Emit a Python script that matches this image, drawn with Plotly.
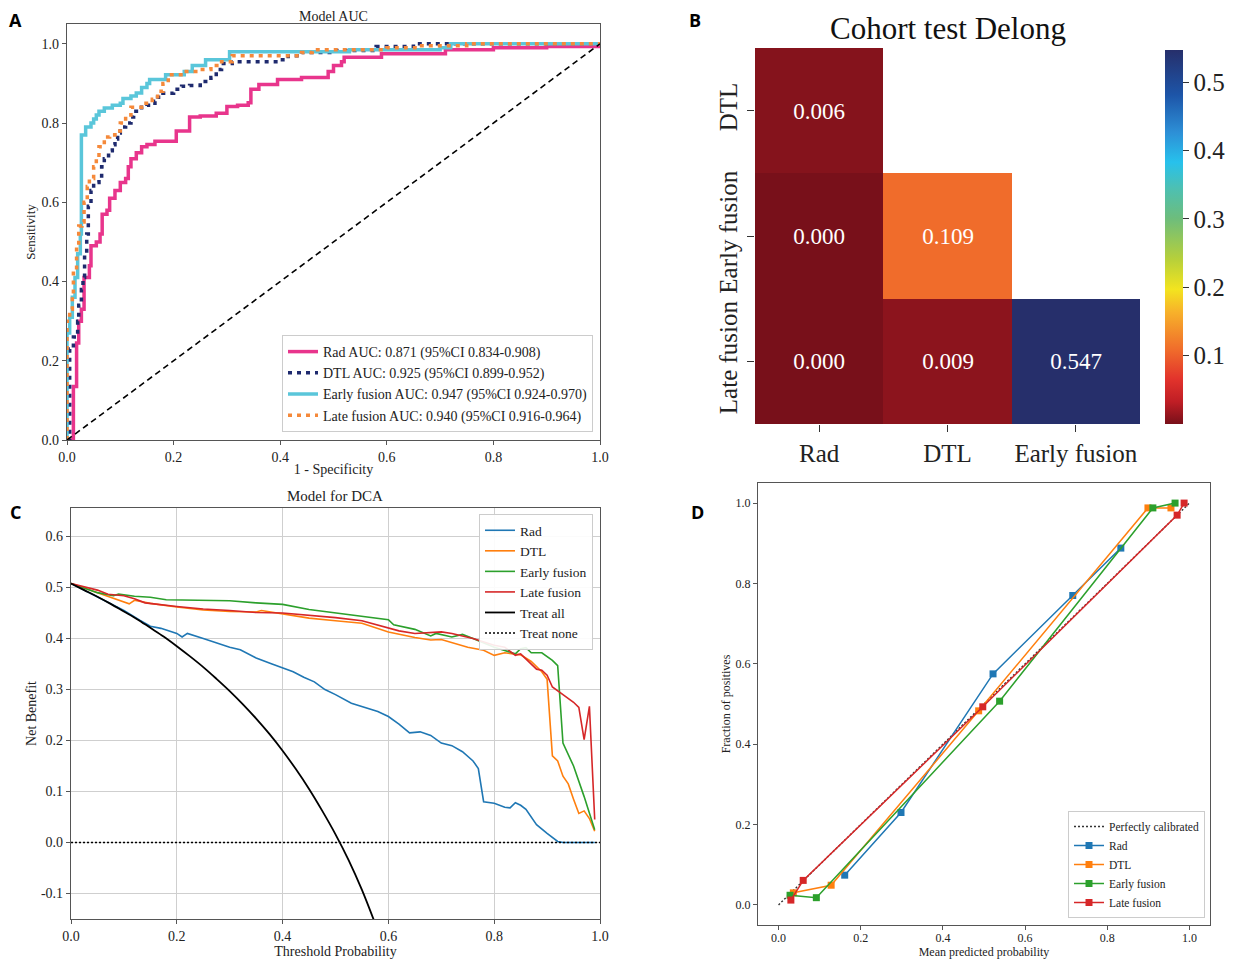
import plotly.graph_objects as go

OFF = 8                      # browser body margin
FW, FH = 1237 - OFF, 959 - OFF
SERIF = "Liberation Serif"

# ---------------- Panel A: ROC data ----------------
rad_fpr = [0, 0.012, 0.018, 0.022, 0.027, 0.032, 0.042, 0.045, 0.055, 0.062, 0.066, 0.075, 0.08, 0.09, 0.1, 0.11, 0.115, 0.12, 0.13, 0.14, 0.15, 0.165, 0.205, 0.23, 0.25, 0.28, 0.3, 0.32, 0.34, 0.345, 0.36, 0.395, 0.44, 0.49, 0.5, 0.515, 0.52, 0.59, 0.71, 0.8, 0.9, 1.0]
rad_tpr = [0, 0.135, 0.245, 0.30, 0.33, 0.41, 0.44, 0.49, 0.50, 0.52, 0.57, 0.58, 0.61, 0.63, 0.65, 0.66, 0.69, 0.71, 0.725, 0.74, 0.746, 0.754, 0.78, 0.815, 0.818, 0.825, 0.842, 0.845, 0.851, 0.885, 0.897, 0.91, 0.915, 0.93, 0.945, 0.955, 0.966, 0.975, 0.985, 0.99, 0.993, 1.0]

dtl_fpr = [0, 0.005, 0.012, 0.02, 0.022, 0.027, 0.03, 0.033, 0.037, 0.04, 0.045, 0.05, 0.06, 0.065, 0.07, 0.078, 0.085, 0.09, 0.095, 0.1, 0.11, 0.12, 0.125, 0.14, 0.15, 0.165, 0.17, 0.18, 0.2, 0.215, 0.23, 0.25, 0.27, 0.28, 0.29, 0.31, 0.4, 0.415, 0.44, 0.5, 0.58, 0.65, 1.0]
dtl_tpr = [0, 0.23, 0.26, 0.30, 0.34, 0.38, 0.41, 0.47, 0.52, 0.59, 0.63, 0.65, 0.66, 0.69, 0.71, 0.73, 0.745, 0.76, 0.775, 0.79, 0.80, 0.815, 0.83, 0.84, 0.845, 0.855, 0.865, 0.875, 0.885, 0.893, 0.895, 0.905, 0.915, 0.935, 0.95, 0.955, 0.96, 0.97, 0.978, 0.983, 0.993, 1.0, 1.0]

early_fpr = [0, 0, 0.005, 0.01, 0.015, 0.02, 0.025, 0.027, 0.035, 0.045, 0.05, 0.055, 0.06, 0.07, 0.085, 0.1, 0.105, 0.12, 0.13, 0.14, 0.15, 0.155, 0.185, 0.22, 0.235, 0.26, 0.305, 0.53, 0.7, 0.72, 1.0]
early_tpr = [0, 0.27, 0.31, 0.36, 0.41, 0.47, 0.52, 0.77, 0.79, 0.80, 0.81, 0.82, 0.83, 0.838, 0.845, 0.85, 0.862, 0.868, 0.876, 0.89, 0.90, 0.91, 0.922, 0.93, 0.945, 0.96, 0.98, 0.985, 0.99, 1.0, 1.0]

late_fpr = [0, 0, 0.005, 0.01, 0.012, 0.018, 0.022, 0.028, 0.032, 0.038, 0.042, 0.05, 0.055, 0.06, 0.07, 0.08, 0.09, 0.1, 0.11, 0.12, 0.14, 0.16, 0.17, 0.18, 0.19, 0.22, 0.25, 0.27, 0.29, 0.31, 0.42, 0.44, 0.46, 0.6, 0.66, 0.75, 1.0]
late_tpr = [0, 0.30, 0.33, 0.37, 0.43, 0.49, 0.54, 0.55, 0.60, 0.64, 0.66, 0.69, 0.71, 0.74, 0.765, 0.77, 0.78, 0.80, 0.82, 0.84, 0.85, 0.86, 0.88, 0.90, 0.922, 0.93, 0.935, 0.945, 0.955, 0.97, 0.97, 0.978, 0.985, 0.99, 0.995, 1.0, 1.0]

roc_labels = ["Rad AUC: 0.871 (95%CI 0.834-0.908)",
              "DTL AUC: 0.925 (95%CI 0.899-0.952)",
              "Early fusion AUC: 0.947 (95%CI 0.924-0.970)",
              "Late fusion AUC: 0.940 (95%CI 0.916-0.964)"]

# ---------------- Panel B: Delong p-values ----------------
delong_x = ["Rad", "DTL", "Early fusion"]
delong_y = ["DTL", "Early fusion", "Late fusion"]
delong_z = [[0.006, None, None],
            [0.000, 0.109, None],
            [0.000, 0.009, 0.547]]
cbar_ticks = [0.1, 0.2, 0.3, 0.4, 0.5]

# ---------------- Panel C: DCA ----------------
dca_rad_x = [0, 0.05, 0.1, 0.13, 0.15, 0.17, 0.2, 0.21, 0.22, 0.25, 0.27, 0.3, 0.32, 0.35, 0.38, 0.4, 0.42, 0.44, 0.46, 0.48, 0.5, 0.53, 0.56, 0.58, 0.6, 0.62, 0.64, 0.66, 0.68, 0.7, 0.72, 0.74, 0.76, 0.77, 0.78, 0.8, 0.82, 0.83, 0.84, 0.85, 0.86, 0.88, 0.9, 0.92, 0.93, 0.99]
dca_rad_y = [0.508, 0.482, 0.455, 0.436, 0.424, 0.42, 0.41, 0.403, 0.41, 0.40, 0.393, 0.383, 0.378, 0.362, 0.35, 0.343, 0.335, 0.324, 0.315, 0.30, 0.29, 0.273, 0.263, 0.257, 0.247, 0.232, 0.215, 0.217, 0.21, 0.195, 0.19, 0.178, 0.16, 0.145, 0.08, 0.077, 0.069, 0.068, 0.078, 0.073, 0.065, 0.035, 0.018, 0.002, 0.0, 0.0]

dca_dtl_x = [0, 0.05, 0.08, 0.11, 0.12, 0.15, 0.2, 0.25, 0.3, 0.35, 0.36, 0.4, 0.45, 0.5, 0.55, 0.6, 0.65, 0.68, 0.7, 0.75, 0.78, 0.8, 0.82, 0.85, 0.87, 0.89, 0.9, 0.91, 0.92, 0.93, 0.94, 0.95, 0.96, 0.97, 0.98, 0.99]
dca_dtl_y = [0.508, 0.49, 0.478, 0.468, 0.475, 0.469, 0.462, 0.456, 0.453, 0.452, 0.455, 0.448, 0.44, 0.435, 0.43, 0.413, 0.402, 0.397, 0.398, 0.383, 0.377, 0.367, 0.372, 0.368, 0.355, 0.335, 0.32, 0.17, 0.16, 0.13, 0.115, 0.085, 0.057, 0.062, 0.047, 0.022]

dca_early_x = [0, 0.05, 0.08, 0.09, 0.12, 0.15, 0.18, 0.25, 0.3, 0.35, 0.4, 0.45, 0.5, 0.55, 0.6, 0.61, 0.65, 0.68, 0.69, 0.72, 0.74, 0.76, 0.8, 0.84, 0.85, 0.86, 0.87, 0.89, 0.91, 0.92, 0.93, 0.95, 0.97, 0.99]
dca_early_y = [0.508, 0.49, 0.484, 0.487, 0.483, 0.481, 0.476, 0.474, 0.474, 0.47, 0.467, 0.457, 0.45, 0.444, 0.437, 0.427, 0.418, 0.405, 0.41, 0.403, 0.408, 0.40, 0.383, 0.37, 0.38, 0.382, 0.372, 0.372, 0.357, 0.347, 0.195, 0.15, 0.09, 0.025]

dca_late_x = [0, 0.05, 0.07, 0.1, 0.12, 0.14, 0.2, 0.25, 0.3, 0.35, 0.4, 0.45, 0.5, 0.55, 0.6, 0.62, 0.65, 0.68, 0.7, 0.72, 0.76, 0.8, 0.82, 0.84, 0.85, 0.88, 0.89, 0.9, 0.91, 0.93, 0.95, 0.96, 0.97, 0.98, 0.99]
dca_late_y = [0.508, 0.495, 0.487, 0.484, 0.478, 0.47, 0.463, 0.458, 0.455, 0.451, 0.45, 0.446, 0.441, 0.435, 0.42, 0.415, 0.41, 0.412, 0.413, 0.41, 0.40, 0.387, 0.383, 0.367, 0.37, 0.34, 0.338, 0.328, 0.305, 0.29, 0.275, 0.265, 0.202, 0.267, 0.045]

treat_all_x = [0, 0.025, 0.05, 0.075, 0.1, 0.125, 0.15, 0.175, 0.2, 0.225, 0.25, 0.275, 0.3, 0.325, 0.35, 0.375, 0.4, 0.425, 0.45, 0.475, 0.5, 0.525, 0.55, 0.575]
treat_all_y = [0.508, 0.495, 0.482, 0.468, 0.453, 0.438, 0.421, 0.404, 0.385, 0.365, 0.344, 0.321, 0.297, 0.271, 0.243, 0.213, 0.180, 0.144, 0.105, 0.062, 0.016, -0.035, -0.093, -0.159]
treat_none_x = [0, 1]
treat_none_y = [0, 0]
nb_ticks = [-0.1, 0, 0.1, 0.2, 0.3, 0.4, 0.5, 0.6]
nb_ticktext = ["-0.1", "0.0", "0.1", "0.2", "0.3", "0.4", "0.5", "0.6"]

# ---------------- Panel D: calibration ----------------
cal_rad_x = [0.161, 0.298, 0.522, 0.716, 0.833]
cal_rad_y = [0.074, 0.230, 0.575, 0.770, 0.888]
cal_dtl_x = [0.036, 0.128, 0.487, 0.899, 0.955]
cal_dtl_y = [0.030, 0.049, 0.483, 0.988, 0.988]
cal_early_x = [0.028, 0.092, 0.538, 0.911, 0.965]
cal_early_y = [0.024, 0.018, 0.507, 0.988, 1.000]
cal_late_x = [0.030, 0.060, 0.497, 0.970, 0.987]
cal_late_y = [0.012, 0.061, 0.493, 0.970, 1.000]


def px(x):
    return (x - OFF) / FW


def py(y):
    return 1 - (y - OFF) / FH


def dx(a, b):
    return [px(a), px(b)]


def dy(top, bottom):
    return [py(bottom), py(top)]


fig = go.Figure()

# ---- Panel A traces ----
roc_cols = ["#e8358c", "#1e2a6e", "#5ac6da", "#f5893a"]
roc_dash = ["solid", "4px,5px", "solid", "4px,5px"]
for fx, ty, col, dsh, lab in zip([rad_fpr, dtl_fpr, early_fpr, late_fpr],
                                 [rad_tpr, dtl_tpr, early_tpr, late_tpr],
                                 roc_cols, roc_dash, roc_labels):
    fig.add_trace(go.Scatter(x=fx, y=ty, mode="lines", line_shape="hv",
                             line=dict(color=col, width=3.5, dash=dsh),
                             name=lab, legend="legend", xaxis="x", yaxis="y"))
fig.add_trace(go.Scatter(x=[0, 1], y=[0, 1], mode="lines",
                         line=dict(color="black", width=1.6, dash="6px,4px"),
                         showlegend=False, xaxis="x", yaxis="y"))

# ---- Panel B heatmap ----
text_z = [["" if v is None else f"{v:.3f}" for v in row] for row in delong_z]
cscale = [
    [0.0, "#78101a"], [0.06, "#c01e25"], [0.12, "#e2332c"], [0.2, "#f06d2b"],
    [0.3, "#f7b22a"], [0.36, "#f3e41f"], [0.44, "#b7d03a"], [0.55, "#6dbd7c"],
    [0.63, "#4dc0b2"], [0.7, "#27c1ec"], [0.78, "#2d8fd6"], [0.88, "#1d55a8"],
    [1.0, "#262f6b"]]
fig.add_trace(go.Heatmap(
    z=delong_z, x=delong_x, y=delong_y, text=text_z, texttemplate="%{text}",
    textfont=dict(family=SERIF, size=23, color="white"),
    colorscale=cscale, zmin=0, zmax=0.547, xgap=0, ygap=0, hoverongaps=False,
    colorbar=dict(x=px(1165), xanchor="left", y=py(237), yanchor="middle",
                  len=374 / FH, lenmode="fraction", thickness=18, outlinewidth=0,
                  xpad=0, ypad=0,
                  tickvals=cbar_ticks, ticks="outside", ticklen=6,
                  tickcolor="#333", tickfont=dict(family=SERIF, size=25, color="#222")),
    xaxis="x2", yaxis="y2"))

# ---- Panel C traces ----
dca_cols = ["#1f77b4", "#ff7f0e", "#2ca02c", "#d62728"]
for xx, yy, col, lab in zip([dca_rad_x, dca_dtl_x, dca_early_x, dca_late_x],
                            [dca_rad_y, dca_dtl_y, dca_early_y, dca_late_y],
                            dca_cols, ["Rad", "DTL", "Early fusion", "Late fusion"]):
    fig.add_trace(go.Scatter(x=xx, y=yy, mode="lines", line=dict(color=col, width=1.6),
                             name=lab, legend="legend2", xaxis="x3", yaxis="y3"))
fig.add_trace(go.Scatter(x=treat_all_x, y=treat_all_y, mode="lines", line_shape="spline",
                         line=dict(color="black", width=1.8), name="Treat all",
                         legend="legend2", xaxis="x3", yaxis="y3"))
fig.add_trace(go.Scatter(x=treat_none_x, y=treat_none_y, mode="lines",
                         line=dict(color="black", width=1.4, dash="2px,2px"), name="Treat none",
                         legend="legend2", xaxis="x3", yaxis="y3"))

# ---- Panel D traces ----
fig.add_trace(go.Scatter(x=[0, 1], y=[0, 1], mode="lines",
                         line=dict(color="#333", width=1.4, dash="2px,2px"),
                         name="Perfectly calibrated", legend="legend3", xaxis="x4", yaxis="y4"))
for xx, yy, col, lab in zip([cal_rad_x, cal_dtl_x, cal_early_x, cal_late_x],
                            [cal_rad_y, cal_dtl_y, cal_early_y, cal_late_y],
                            dca_cols, ["Rad", "DTL", "Early fusion", "Late fusion"]):
    fig.add_trace(go.Scatter(x=xx, y=yy, mode="lines+markers",
                             line=dict(color=col, width=1.5),
                             marker=dict(symbol="square", size=7, color=col),
                             name=lab, legend="legend3", xaxis="x4", yaxis="y4"))

frame = dict(showline=True, mirror=True, linecolor="#555", linewidth=1.3,
             ticks="outside", ticklen=4, tickcolor="#555", zeroline=False,
             automargin=False, tickfont=dict(family=SERIF, size=14, color="#222"))
small = {**frame, "tickfont": dict(family=SERIF, size=12, color="#222")}
ticks01 = [0, 0.2, 0.4, 0.6, 0.8, 1.0]

fig.update_layout(
    width=FW, height=FH, autosize=False,
    margin=dict(l=0, r=0, t=0, b=0, pad=0, autoexpand=False),
    paper_bgcolor="white", plot_bgcolor="white",
    font=dict(family=SERIF, color="#222"),
    xaxis=dict(domain=dx(67, 600), anchor="y", range=[0, 1], showgrid=False,
               tickvals=ticks01, tickformat=".1f",
               title=dict(text="1 - Specificity", font=dict(family=SERIF, size=14), standoff=0), **frame),
    yaxis=dict(domain=dy(24, 440), anchor="x", range=[0, 1.05], showgrid=False,
               tickvals=ticks01, tickformat=".1f",
               title=dict(text="Sensitivity", font=dict(family=SERIF, size=13), standoff=2), **frame),
    xaxis2=dict(domain=dx(755, 1140), anchor="y2", showline=False, showgrid=False,
                ticks="outside", ticklen=7, tickcolor="#333", zeroline=False, automargin=False,
                tickfont=dict(family=SERIF, size=25, color="#222")),
    yaxis2=dict(domain=dy(48, 424), anchor="x2", autorange="reversed", showline=False,
                showgrid=False, ticks="outside", ticklen=7, tickcolor="#333",
                zeroline=False, tickangle=-90, automargin=False,
                tickfont=dict(family=SERIF, size=25, color="#222")),
    xaxis3=dict(domain=dx(71, 600), anchor="y3", range=[0, 1], showgrid=True,
                gridcolor="#cfcfcf", gridwidth=1.2,
                tickvals=ticks01, tickformat=".1f",
                title=dict(text="Threshold Probability", font=dict(family=SERIF, size=14), standoff=2), **frame),
    yaxis3=dict(domain=dy(508, 919), anchor="x3", range=[-0.15, 0.656], showgrid=True,
                gridcolor="#cfcfcf", gridwidth=1.2,
                tickvals=nb_ticks, ticktext=nb_ticktext,
                title=dict(text="Net Benefit", font=dict(family=SERIF, size=14), standoff=0), **frame),
    xaxis4=dict(domain=dx(758, 1210), anchor="y4", range=[-0.05, 1.05], showgrid=False,
                tickvals=ticks01, tickformat=".1f", ticklabelstandoff=-3,
                title=dict(text="Mean predicted probability", font=dict(family=SERIF, size=12), standoff=0),
                **small),
    yaxis4=dict(domain=dy(483, 925), anchor="x4", range=[-0.05, 1.05], showgrid=False,
                tickvals=ticks01, tickformat=".1f",
                title=dict(text="Fraction of positives", font=dict(family=SERIF, size=12), standoff=2),
                **small),
    legend=dict(x=px(593), xanchor="right", y=py(432), yanchor="bottom",
                bgcolor="rgba(255,255,255,0.9)", bordercolor="#cccccc", borderwidth=1,
                font=dict(family=SERIF, size=14, color="#222"), tracegroupgap=0,
                itemwidth=30),
    legend2=dict(x=px(593), xanchor="right", y=py(514), yanchor="top",
                 bgcolor="rgba(255,255,255,0.9)", bordercolor="#cccccc", borderwidth=1,
                 font=dict(family=SERIF, size=13.5, color="#222"), itemwidth=30),
    legend3=dict(x=px(1205), xanchor="right", y=py(918), yanchor="bottom",
                 bgcolor="rgba(255,255,255,0.9)", bordercolor="#cccccc", borderwidth=1,
                 font=dict(family=SERIF, size=11.5, color="#222"), itemwidth=30),
    annotations=[
        dict(text="<b>A</b>", x=px(15), y=py(20), xanchor="center", yanchor="middle",
             xref="paper", yref="paper", showarrow=False,
             font=dict(family="Open Sans", size=18, color="black")),
        dict(text="<b>B</b>", x=px(695), y=py(20), xanchor="center", yanchor="middle",
             xref="paper", yref="paper", showarrow=False,
             font=dict(family="Open Sans", size=18, color="black")),
        dict(text="<b>C</b>", x=px(15), y=py(512), xanchor="center", yanchor="middle",
             xref="paper", yref="paper", showarrow=False,
             font=dict(family="Open Sans", size=18, color="black")),
        dict(text="<b>D</b>", x=px(697), y=py(512), xanchor="center", yanchor="middle",
             xref="paper", yref="paper", showarrow=False,
             font=dict(family="Open Sans", size=18, color="black")),
        dict(text="Model AUC", x=px(333), y=py(16.5), xanchor="center", yanchor="middle",
             xref="paper", yref="paper", showarrow=False,
             font=dict(family=SERIF, size=14, color="#222")),
        dict(text="Cohort test Delong", x=px(948), y=py(29), xanchor="center", yanchor="middle",
             xref="paper", yref="paper", showarrow=False,
             font=dict(family=SERIF, size=31, color="#111")),
        dict(text="Model for DCA", x=px(335), y=py(496), xanchor="center", yanchor="middle",
             xref="paper", yref="paper", showarrow=False,
             font=dict(family=SERIF, size=15, color="#222")),
    ],
)

fig.write_html("out.html")
